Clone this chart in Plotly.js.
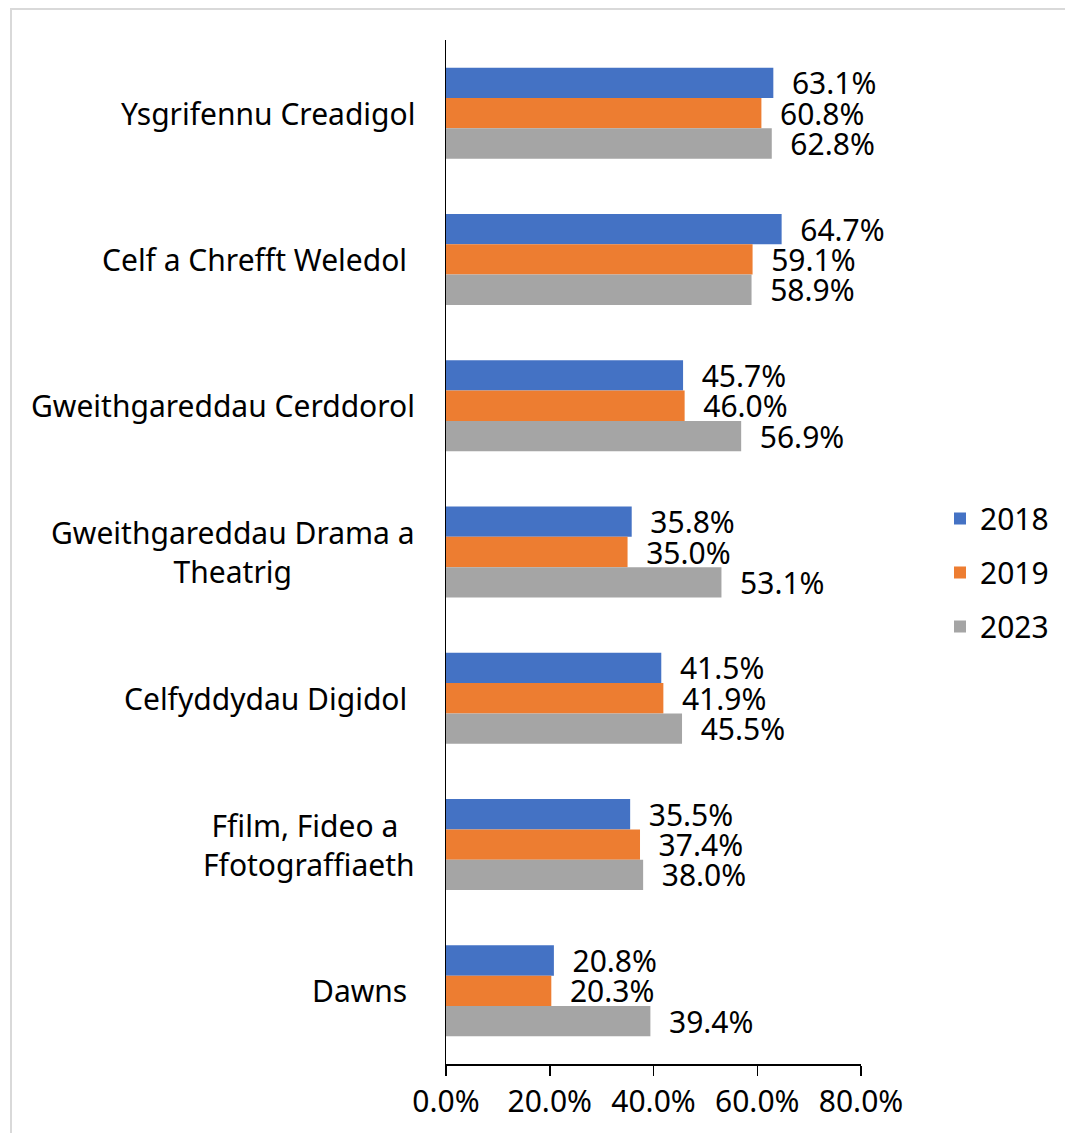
<!DOCTYPE html>
<html>
<head>
<meta charset="utf-8">
<script src="https://cdn.plot.ly/plotly-3.0.1.min.js"></script>
<style>
  html, body { margin: 0; padding: 0; background: #fff; overflow: hidden; }
  #frame { position: absolute; left: 10px; top: 8px; width: 2000px; height: 2000px;
           border-left: 2px solid #d9d9d9; border-top: 2px solid #d9d9d9; }
  #chart { position: absolute; left: 0; top: 0; width: 1065px; height: 1133px; }
</style>
</head>
<body>
<div id="frame"></div>
<div id="chart"></div>
<script>
// Categories (top to bottom), trailing spaces as in the source labels
const categories = [
  "Ysgrifennu Creadigol",
  "Celf a Chrefft Weledol ",
  "Gweithgareddau Cerddorol",
  "Gweithgareddau Drama a<br>Theatrig",
  "Celfyddydau Digidol ",
  "Ffilm, Fideo a <br>Ffotograffiaeth",
  "Dawns "
];
const seriesNames = ["2018", "2019", "2023"];
const values2018 = [0.631, 0.647, 0.457, 0.358, 0.415, 0.355, 0.208];
const values2019 = [0.608, 0.591, 0.460, 0.350, 0.419, 0.374, 0.203];
const values2023 = [0.628, 0.589, 0.569, 0.531, 0.455, 0.380, 0.394];
const xTicks = [0, 0.2, 0.4, 0.6, 0.8];
const colors = ["#4472C4", "#ED7D31", "#A5A5A5"];

const FONT = "Noto Sans, DejaVu Sans, sans-serif";
const seriesValues = [values2018, values2019, values2023];

const traces = seriesNames.map((name, i) => ({
  type: "bar",
  orientation: "h",
  name: name,
  legendgroup: name,
  y: categories,
  x: seriesValues[i],
  marker: { color: colors[i] },
  texttemplate: "\u00a0\u00a0%{x:.1%}",
  textposition: "outside",
  constraintext: "none",
  cliponaxis: false,
  textfont: { family: FONT, size: 30, color: "#000" },
  hoverinfo: "none"
}));

const annotations = categories.map(c => ({
  xref: "paper", yref: "y",
  x: 0, y: c,
  xanchor: "right", yanchor: "middle",
  xshift: -29,
  align: "center",
  text: c.replace(/ (<br>|$)/g, "\u00a0$1"),
  showarrow: false,
  font: { family: FONT, size: 30, color: "#000" }
}));

const layout = {
  width: 1065, height: 1133,
  autosize: false,
  margin: { l: 446, r: 203, t: 40, b: 69, pad: 0 },
  paper_bgcolor: "rgba(0,0,0,0)",
  plot_bgcolor: "rgba(0,0,0,0)",
  font: { family: FONT, size: 30, color: "#000" },
  barmode: "group",
  bargap: 0.378,
  bargroupgap: 0,
  showlegend: true,
  legend: {
    x: 1.1875, y: 0.48, xanchor: "left", yanchor: "middle",
    font: { family: FONT, size: 30, color: "#000" },
    tracegroupgap: 12,
    traceorder: "grouped",
    bgcolor: "rgba(0,0,0,0)"
  },
  xaxis: {
    range: [0, 0.8],
    tickvals: xTicks,
    tickformat: ".1%",
    ticks: "outside", ticklen: 10, tickwidth: 1.5, tickcolor: "#000",
    showline: true, linecolor: "#000", linewidth: 1.5,
    showgrid: false, zeroline: false,
    tickfont: { family: FONT, size: 30, color: "#000" },
    fixedrange: true
  },
  yaxis: {
    type: "category",
    autorange: "reversed",
    showline: true, linecolor: "#000", linewidth: 1.5,
    showticklabels: false, ticks: "",
    showgrid: false, zeroline: false,
    fixedrange: true
  },
  annotations: annotations
};

Plotly.newPlot("chart", traces, layout, { displayModeBar: false, staticPlot: true });
</script>
</body>
</html>
